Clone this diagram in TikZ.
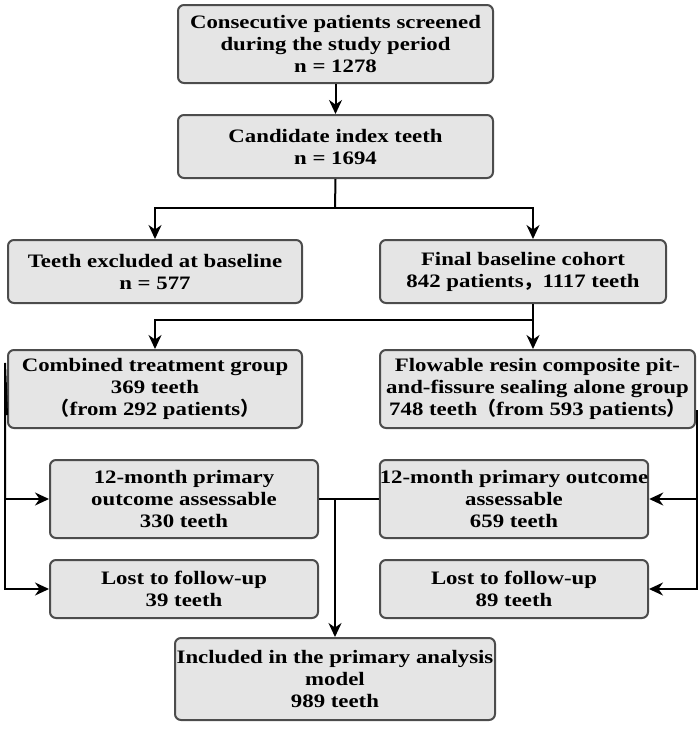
\documentclass[tikz,border=0pt]{standalone}
\usepackage{fontspec}
\setmainfont[FakeStretch=1.2]{Liberation Serif}
\newfontfamily\cjk{Noto Sans CJK SC}
\newcommand{\lp}{{\cjk （}}
\newcommand{\rp}{{\cjk ）}}
\newcommand{\cm}{{\cjk ，}}
\usetikzlibrary{arrows.meta}
\begin{document}
\begin{tikzpicture}[x=1pt,y=-1pt,
  bx/.style={draw=black!70,line width=2pt,fill=black!10,rounded corners=6pt,align=center,font=\fontsize{19}{22}\selectfont\bfseries,inner sep=0pt},
  ln/.style={line width=2pt},
  ar/.style={line width=2pt,-{Stealth[length=14pt,width=13pt]}}]
\useasboundingbox (0,0) rectangle (700,732);
\node[bx,minimum width=315,minimum height=78] (a) at (335.5,44) {Consecutive patients screened\\during the study period\\n = 1278};
\node[bx,minimum width=315,minimum height=63] (b) at (335.5,146.5) {Candidate index teeth\\n = 1694};
\node[bx,minimum width=294,minimum height=63] (c) at (155,271.5) {Teeth excluded at baseline\\n = 577};
\node[bx,minimum width=286,minimum height=63] (d) at (523,271.5) {Final baseline cohort\\842 patients\cm 1117 teeth};
\node[bx,minimum width=294,minimum height=78] (e) at (155,389) {Combined treatment group\\369 teeth\\\lp from 292 patients\rp};
\node[bx,minimum width=315,minimum height=78] (f) at (537.5,389) {Flowable resin composite pit-\\and-fissure sealing alone group\\748 teeth\lp from 593 patients\rp};
\node[bx,minimum width=268,minimum height=78] (g) at (184,499) {12-month primary\\outcome assessable\\330 teeth};
\node[bx,minimum width=268,minimum height=78] (h) at (514,499) {12-month primary outcome\\assessable\\659 teeth};
\node[bx,minimum width=268,minimum height=58] (i) at (184,589) {Lost to follow-up\\39 teeth};
\node[bx,minimum width=268,minimum height=58] (j) at (514,589) {Lost to follow-up\\89 teeth};
\node[bx,minimum width=320,minimum height=82] (k) at (335,679) {Included in the primary analysis\\model\\989 teeth};
\draw[ar] (a.south) -- (b.north);
\coordinate (m1) at (335,208);
\draw[ln] (b.south) -- (m1);
\draw[ar] (m1) -| (c.north);
\draw[ar] (m1) -| ([xshift=10pt]d.north);
\coordinate (m2) at (533,320);
\draw[ln] ([xshift=10pt]d.south) -- (m2);
\draw[ar] (m2) -| (e.north);
\draw[ar] (m2) -| ([xshift=-4.5pt]f.north);
\coordinate (l1) at (5,363);
\draw[ln] ([yshift=-26pt]e.west) -- (l1) -- (5,499);
\draw[ar] (5,499) -- (g.west);
\draw[ar] (5,499) |- (i.west);
\coordinate (r1) at (697,410);
\draw[ln] (r1) -- (697,499);
\draw[ar] (697,499) -- (h.east);
\draw[ar] (697,499) |- (j.east);
\draw[ln] (g.east) -- (h.west);
\draw[ar] (335,499) -- (k.north);
\end{tikzpicture}
\end{document}
